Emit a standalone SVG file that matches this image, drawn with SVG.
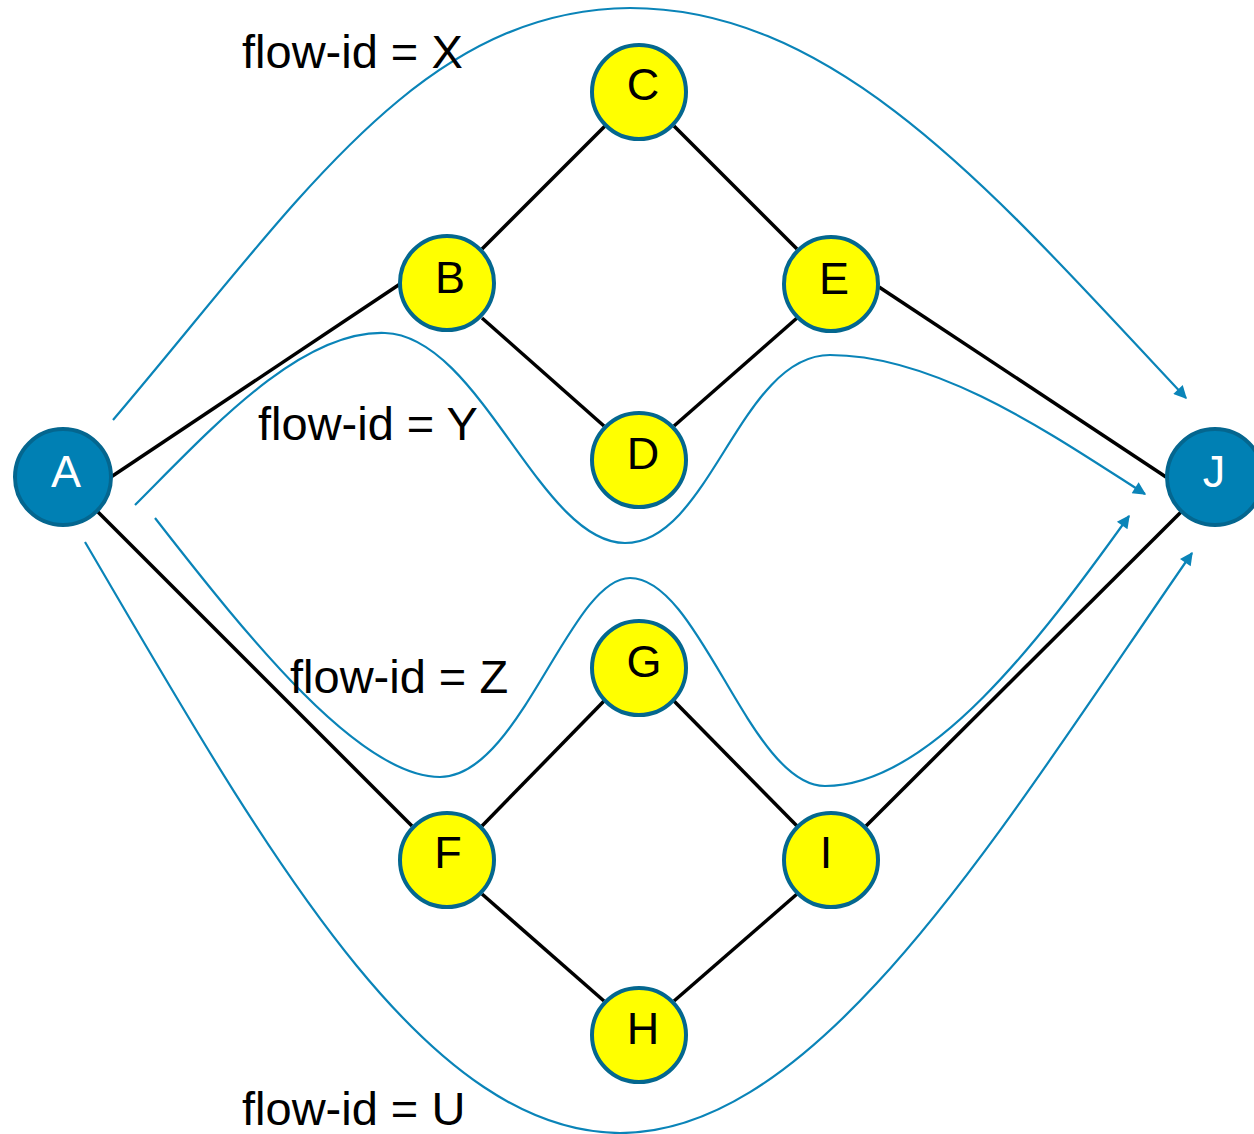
<svg xmlns="http://www.w3.org/2000/svg" width="1254" height="1134" viewBox="0 0 1254 1134">
<style>
.edge{stroke:#000;stroke-width:3.5;fill:none}
.flow{stroke:#0A84B8;stroke-width:2.2;fill:none}
.yn{fill:#FFFF00;stroke:#04678F;stroke-width:4}
.bn{fill:#0080B4;stroke:#04668F;stroke-width:4}
.nl{font-family:"Liberation Sans",Arial,sans-serif;font-size:45px;text-anchor:middle;fill:#000}
.wl{fill:#fff}
.lab{font-family:"Liberation Sans",Arial,sans-serif;font-size:47px;fill:#000}
</style>
<defs>
<marker id="ah" viewBox="0 0 10 10" refX="9" refY="5" markerWidth="16" markerHeight="13" markerUnits="userSpaceOnUse" orient="auto">
<path d="M0,0 L10,5 L0,10 z" fill="#0A84B8"/>
</marker>
</defs>
<rect width="1254" height="1134" fill="#fff"/>
<g id="connectors">
<line class="edge" x1="111" y1="477" x2="400" y2="284"/>
<line class="edge" x1="97" y1="511" x2="412" y2="826"/>
<line class="edge" x1="482" y1="249" x2="605" y2="126"/>
<line class="edge" x1="674" y1="126" x2="797" y2="249"/>
<line class="edge" x1="482" y1="318" x2="604" y2="426"/>
<line class="edge" x1="674" y1="426" x2="797" y2="318"/>
<line class="edge" x1="879" y1="287" x2="1166" y2="477"/>
<line class="edge" x1="482" y1="826" x2="604" y2="701"/>
<line class="edge" x1="674" y1="701" x2="797" y2="826"/>
<line class="edge" x1="482" y1="894" x2="604" y2="1001"/>
<line class="edge" x1="674" y1="1001" x2="797" y2="894"/>
<line class="edge" x1="866" y1="826" x2="1181" y2="512"/>
<path class="flow" d="M113,420 C300,200 420,10 630,8 C840,8 1000,200 1186,398" marker-end="url(#ah)"/>
<path class="flow" d="M135,505 C210,430 300,330 385,333 C480,336 540,543 625,543 C710,543 740,355 830,355 C940,355 1060,440 1145,494" marker-end="url(#ah)"/>
<path class="flow" d="M155,518 C250,640 360,777 440,777 C520,777 570,578 630,578 C700,578 750,786 825,786 C930,786 1040,640 1129,516" marker-end="url(#ah)"/>
<path class="flow" d="M85,542 C260,840 420,1132 620,1133 C820,1133 1000,830 1192,553" marker-end="url(#ah)"/>
</g>
<g id="node-A"><circle class="bn" cx="63" cy="477" r="48"/><text class="nl wl" x="66" y="487">A</text></g>
<g id="node-J"><circle class="bn" cx="1215" cy="477" r="48"/><text class="nl wl" x="1214" y="487">J</text></g>
<g id="node-B"><circle class="yn" cx="447" cy="283" r="47"/><text class="nl" x="450" y="293">B</text></g>
<g id="node-C"><circle class="yn" cx="639" cy="92" r="47"/><text class="nl" x="643" y="100">C</text></g>
<g id="node-E"><circle class="yn" cx="831" cy="284" r="47"/><text class="nl" x="834" y="294">E</text></g>
<g id="node-D"><circle class="yn" cx="639" cy="460" r="47"/><text class="nl" x="643" y="469">D</text></g>
<g id="node-G"><circle class="yn" cx="639" cy="668" r="47"/><text class="nl" x="644" y="677">G</text></g>
<g id="node-F"><circle class="yn" cx="447" cy="860" r="47"/><text class="nl" x="448" y="868">F</text></g>
<g id="node-I"><circle class="yn" cx="831" cy="860" r="47"/><text class="nl" x="826" y="868">I</text></g>
<g id="node-H"><circle class="yn" cx="639" cy="1035" r="47"/><text class="nl" x="643" y="1044">H</text></g>
<g id="labels">
<text class="lab" x="242" y="68">flow-id = X</text>
<text class="lab" x="258" y="440">flow-id = Y</text>
<text class="lab" x="290" y="693">flow-id = Z</text>
<text class="lab" x="242" y="1125">flow-id = U</text>
</g>
</svg>
